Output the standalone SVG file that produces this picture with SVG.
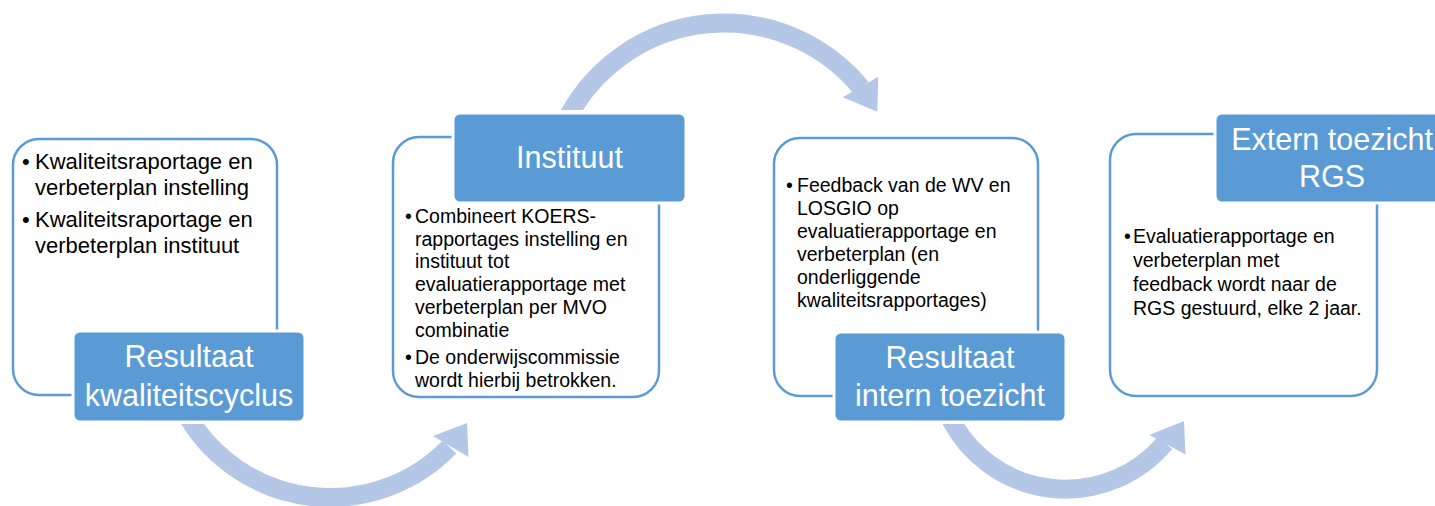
<svg xmlns="http://www.w3.org/2000/svg" width="1435" height="506" viewBox="0 0 1435 506">
  <style>
    .frame { fill: #ffffff; stroke: #5b9bd5; stroke-width: 2.5; }
    .head { fill: #5b9bd5; stroke: #ffffff; stroke-width: 3; }
    .title { font-family: "Liberation Sans", Arial, sans-serif; font-size: 30.5px; fill: #ffffff; text-anchor: middle; }
    .body { font-family: "Liberation Sans", Arial, sans-serif; font-size: 19.5px; fill: #000000; }
    .body.large { font-size: 22px; }
    .flow { fill: none; stroke: #b4c7e7; stroke-width: 19; }
    .tip { fill: #b4c7e7; }
  </style>
  <defs>
    <clipPath id="below-1"><rect x="0" y="424" width="700" height="82"/></clipPath>
    <clipPath id="above-2"><rect x="500" y="0" width="450" height="110"/></clipPath>
    <clipPath id="below-3"><rect x="900" y="424" width="400" height="82"/></clipPath>
  </defs>

  <rect width="1435" height="506" fill="#ffffff"/>

  <!-- curved flow arrows between the stages -->
  <g id="connectors">
    <g clip-path="url(#below-1)">
      <path class="flow" d="M188.5,418 A166.1,166.1 0 0 0 449.5,447"/>
    </g>
    <polygon class="tip" points="433,436 467,423 468.5,457"/>

    <g clip-path="url(#above-2)">
      <path class="flow" d="M569,115 A176.9,176.9 0 0 1 861,87.7"/>
    </g>
    <polygon class="tip" points="842.7,97.3 878.3,76.7 877.3,111.7"/>

    <g clip-path="url(#below-3)">
      <path class="flow" d="M950,418 A129.8,129.8 0 0 0 1165,443"/>
    </g>
    <polygon class="tip" points="1149.3,435 1184,421 1185.5,454.5"/>
  </g>

  <!-- stage 1 -->
  <g id="resultaat-kwaliteitscyclus">
    <rect class="frame" x="13" y="139" width="264" height="256" rx="26"/>
    <text class="body large" x="22" y="168.5">•</text>
    <text class="body large" x="35" y="168.5">Kwaliteitsraportage en</text>
    <text class="body large" x="35" y="195">verbeterplan instelling</text>
    <text class="body large" x="22" y="227">•</text>
    <text class="body large" x="35" y="227">Kwaliteitsraportage en</text>
    <text class="body large" x="35" y="253">verbeterplan instituut</text>
    <rect class="head" x="73" y="331" width="232" height="91" rx="7"/>
    <text class="title" x="189" y="367">Resultaat</text>
    <text class="title" x="189" y="406">kwaliteitscyclus</text>
  </g>

  <!-- stage 2 -->
  <g id="instituut">
    <rect class="frame" x="393" y="137" width="266" height="260" rx="26"/>
    <rect class="head" x="453" y="113" width="233" height="90" rx="7"/>
    <text class="title" x="569.5" y="167.5">Instituut</text>
    <text class="body" x="405" y="222.7">•</text>
    <text class="body" x="415" y="222.7">Combineert KOERS-</text>
    <text class="body" x="415" y="245.5">rapportages instelling en</text>
    <text class="body" x="415" y="268.3">instituut tot</text>
    <text class="body" x="415" y="291.1">evaluatierapportage met</text>
    <text class="body" x="415" y="313.9">verbeterplan per MVO</text>
    <text class="body" x="415" y="336.7">combinatie</text>
    <text class="body" x="405" y="363.5">•</text>
    <text class="body" x="415" y="363.5">De onderwijscommissie</text>
    <text class="body" x="415" y="386.5">wordt hierbij betrokken.</text>
  </g>

  <!-- stage 3 -->
  <g id="resultaat-intern-toezicht">
    <rect class="frame" x="774" y="138" width="264" height="258" rx="26"/>
    <text class="body" x="786" y="191.7">•</text>
    <text class="body" x="797" y="191.7">Feedback van de WV en</text>
    <text class="body" x="797" y="214.7">LOSGIO op</text>
    <text class="body" x="797" y="237.7">evaluatierapportage en</text>
    <text class="body" x="797" y="260.7">verbeterplan (en</text>
    <text class="body" x="797" y="283.7">onderliggende</text>
    <text class="body" x="797" y="306.7">kwaliteitsrapportages)</text>
    <rect class="head" x="834" y="332" width="232" height="90" rx="7"/>
    <text class="title" x="950" y="368">Resultaat</text>
    <text class="title" x="950" y="406">intern toezicht</text>
  </g>

  <!-- stage 4 -->
  <g id="extern-toezicht-rgs">
    <rect class="frame" x="1110" y="134" width="267" height="262" rx="26"/>
    <rect class="head" x="1215" y="113" width="234" height="90" rx="7"/>
    <text class="title" x="1332" y="150">Extern toezicht</text>
    <text class="title" x="1332" y="187">RGS</text>
    <text class="body" x="1124" y="243.3">•</text>
    <text class="body" x="1133" y="243.3">Evaluatierapportage en</text>
    <text class="body" x="1133" y="267.2">verbeterplan met</text>
    <text class="body" x="1133" y="291.1">feedback wordt naar de</text>
    <text class="body" x="1133" y="315">RGS gestuurd, elke 2 jaar.</text>
  </g>
</svg>
